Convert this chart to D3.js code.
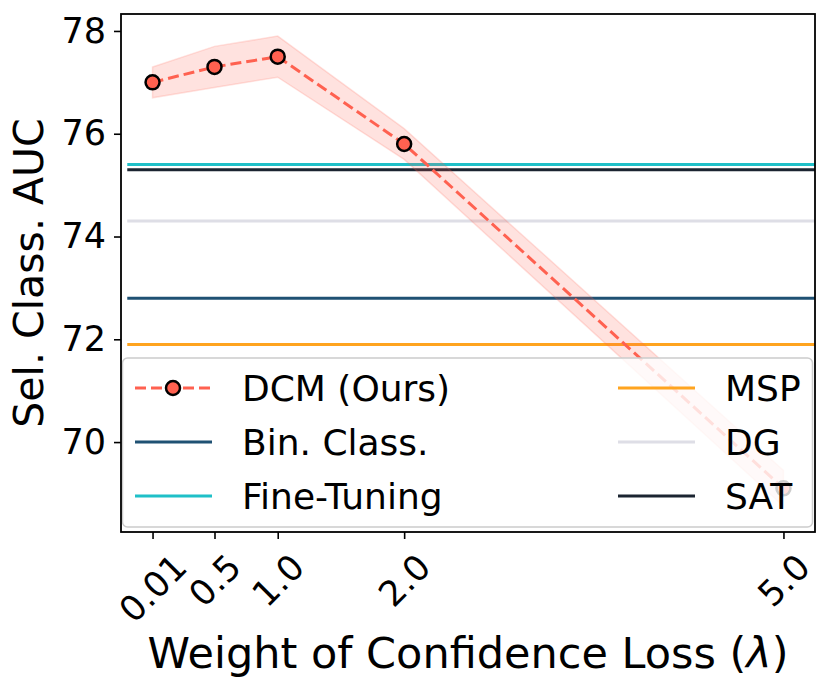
<!DOCTYPE html>
<html>
<head>
<meta charset="utf-8">
<script src="https://cdn.jsdelivr.net/npm/d3@7"></script>
<style>
  body { margin: 0; background: #fff; }
  text { font-family: "DejaVu Sans", sans-serif; }
</style>
</head>
<body>
<div id="chart"></div>
<script>
// values
var lambdas = [0.01, 0.5, 1.0, 2.0, 5.0];
var lambdaLabels = ["0.01", "0.5", "1.0", "2.0", "5.0"];
var dcmMean = [77.0, 77.3, 77.5, 75.8, 69.1];
var dcmLow  = [76.7, 76.9, 77.1, 75.5, 68.75];
var dcmHigh = [77.3, 77.7, 77.9, 76.1, 69.45];

var baseNames  = ["Bin. Class.", "Fine-Tuning", "MSP", "DG", "SAT"];
var baseValues = [72.8, 75.4, 71.9, 74.3, 75.3];
var baseColors = ["#1f5173", "#1fc0c8", "#ffa41f", "#dedee6", "#1b2431"];
var baseStart = -0.19;

var yTicks = [70, 72, 74, 76, 78];
var dcmColor = "#ff6150";

var W = 830, H = 689;
var mLeft = 121, mRight = 815, mTop = 14, mBottom = 532;

var svg = d3.select("#chart").append("svg")
    .attr("width", W)
    .attr("height", H);

var x = d3.scaleLinear().domain([-0.2395, 5.2495]).range([mLeft, mRight]);
var y = d3.scaleLinear().domain([68.25, 78.33]).range([mBottom, mTop]);

// baselines (horizontal lines)
baseValues.forEach(function(v, i) {
  svg.append("line")
    .attr("x1", x(baseStart))
    .attr("x2", x(x.domain()[1]))
    .attr("y1", y(v))
    .attr("y2", y(v))
    .attr("stroke", baseColors[i])
    .attr("stroke-width", 3);
});

// DCM band
var band = lambdas.map(function(l, i) { return {x: l, lo: dcmLow[i], hi: dcmHigh[i]}; });
svg.append("path")
  .datum(band)
  .attr("d", d3.area()
      .x(function(d) { return x(d.x); })
      .y0(function(d) { return y(d.lo); })
      .y1(function(d) { return y(d.hi); }))
  .attr("fill", dcmColor)
  .attr("fill-opacity", 0.18)
  .attr("stroke", dcmColor)
  .attr("stroke-opacity", 0.18)
  .attr("stroke-width", 1.5);

// DCM line
var pts = lambdas.map(function(l, i) { return {x: l, y: dcmMean[i]}; });
svg.append("path")
  .datum(pts)
  .attr("d", d3.line().x(function(d) { return x(d.x); }).y(function(d) { return y(d.y); }))
  .attr("fill", "none")
  .attr("stroke", dcmColor)
  .attr("stroke-width", 3)
  .attr("stroke-dasharray", "11,5");

svg.selectAll(".pt")
  .data(pts)
  .enter().append("circle")
    .attr("class", "pt")
    .attr("cx", function(d) { return x(d.x); })
    .attr("cy", function(d) { return y(d.y); })
    .attr("r", 7)
    .attr("fill", dcmColor)
    .attr("stroke", "#000")
    .attr("stroke-width", 2.5);

// legend
var legend = svg.append("g");
legend.append("rect")
  .attr("x", 122.5).attr("y", 358)
  .attr("width", 690).attr("height", 169)
  .attr("rx", 5)
  .attr("fill", "#fff").attr("fill-opacity", 0.8)
  .attr("stroke", "#cccccc").attr("stroke-width", 1.5);

var legItems = [
  {name: "DCM (Ours)", color: dcmColor, dcm: true},
  {name: baseNames[0], color: baseColors[0]},
  {name: baseNames[1], color: baseColors[1]},
  {name: baseNames[2], color: baseColors[2]},
  {name: baseNames[3], color: baseColors[3]},
  {name: baseNames[4], color: baseColors[4]}
];
var colX = [135, 618], rowY = [388, 442, 496];
legItems.forEach(function(it, i) {
  var cx = colX[Math.floor(i / 3)], cy = rowY[i % 3];
  var g = legend.append("g");
  var ln = g.append("line")
    .attr("x1", cx).attr("x2", cx + 77)
    .attr("y1", cy).attr("y2", cy)
    .attr("stroke", it.color).attr("stroke-width", 3);
  if (it.dcm) {
    ln.attr("stroke-dasharray", "11,5");
    g.append("circle")
      .attr("cx", cx + 38).attr("cy", cy).attr("r", 7)
      .attr("fill", dcmColor).attr("stroke", "#000").attr("stroke-width", 2.5);
  }
  g.append("text")
    .attr("x", cx + 107).attr("y", cy)
    .attr("dominant-baseline", "central")
    .attr("font-size", 36)
    .attr("fill", "#000")
    .text(it.name);
});

// axes
var gx = svg.append("g")
  .attr("transform", "translate(0," + mBottom + ")")
  .call(d3.axisBottom(x).tickValues(lambdas).tickSize(7)
        .tickFormat(function(d, i) { return lambdaLabels[i]; }));
gx.select(".domain").remove();
gx.selectAll(".tick line").attr("stroke", "#000").attr("stroke-width", 1.6);
gx.selectAll(".tick text")
  .attr("font-size", 35)
  .attr("font-family", "DejaVu Sans")
  .attr("fill", "#000")
  .each(function() {
    var w = this.getComputedTextLength();
    var half = (w + 25) * 0.7071 / 2;
    d3.select(this)
      .attr("y", null).attr("dy", null)
      .attr("text-anchor", "middle")
      .attr("dominant-baseline", "central")
      .attr("transform", "translate(0," + (20 + half) + ") rotate(-45)");
  });

var gy = svg.append("g")
  .attr("transform", "translate(" + mLeft + ",0)")
  .call(d3.axisLeft(y).tickValues(yTicks).tickSize(7).tickPadding(8));
gy.select(".domain").remove();
gy.selectAll(".tick line").attr("stroke", "#000").attr("stroke-width", 1.6);
gy.selectAll(".tick text")
  .attr("font-size", 35)
  .attr("font-family", "DejaVu Sans")
  .attr("fill", "#000");

// spines
svg.append("rect")
  .attr("x", mLeft).attr("y", mTop)
  .attr("width", mRight - mLeft).attr("height", mBottom - mTop)
  .attr("fill", "none")
  .attr("stroke", "#000")
  .attr("stroke-width", 1.8);

// axis labels
var xl = svg.append("text")
  .attr("x", (mLeft + mRight) / 2)
  .attr("y", 668)
  .attr("text-anchor", "middle")
  .attr("font-size", 43)
  .attr("fill", "#000");
xl.append("tspan").text("Weight of Confidence Loss (");
xl.append("tspan").attr("font-style", "italic").text("\u03bb");
xl.append("tspan").text(")");

svg.append("text")
  .attr("transform", "translate(43," + (mTop + mBottom) / 2 + ") rotate(-90)")
  .attr("text-anchor", "middle")
  .attr("font-size", 41)
  .attr("fill", "#000")
  .text("Sel. Class. AUC");
</script>
</body>
</html>
